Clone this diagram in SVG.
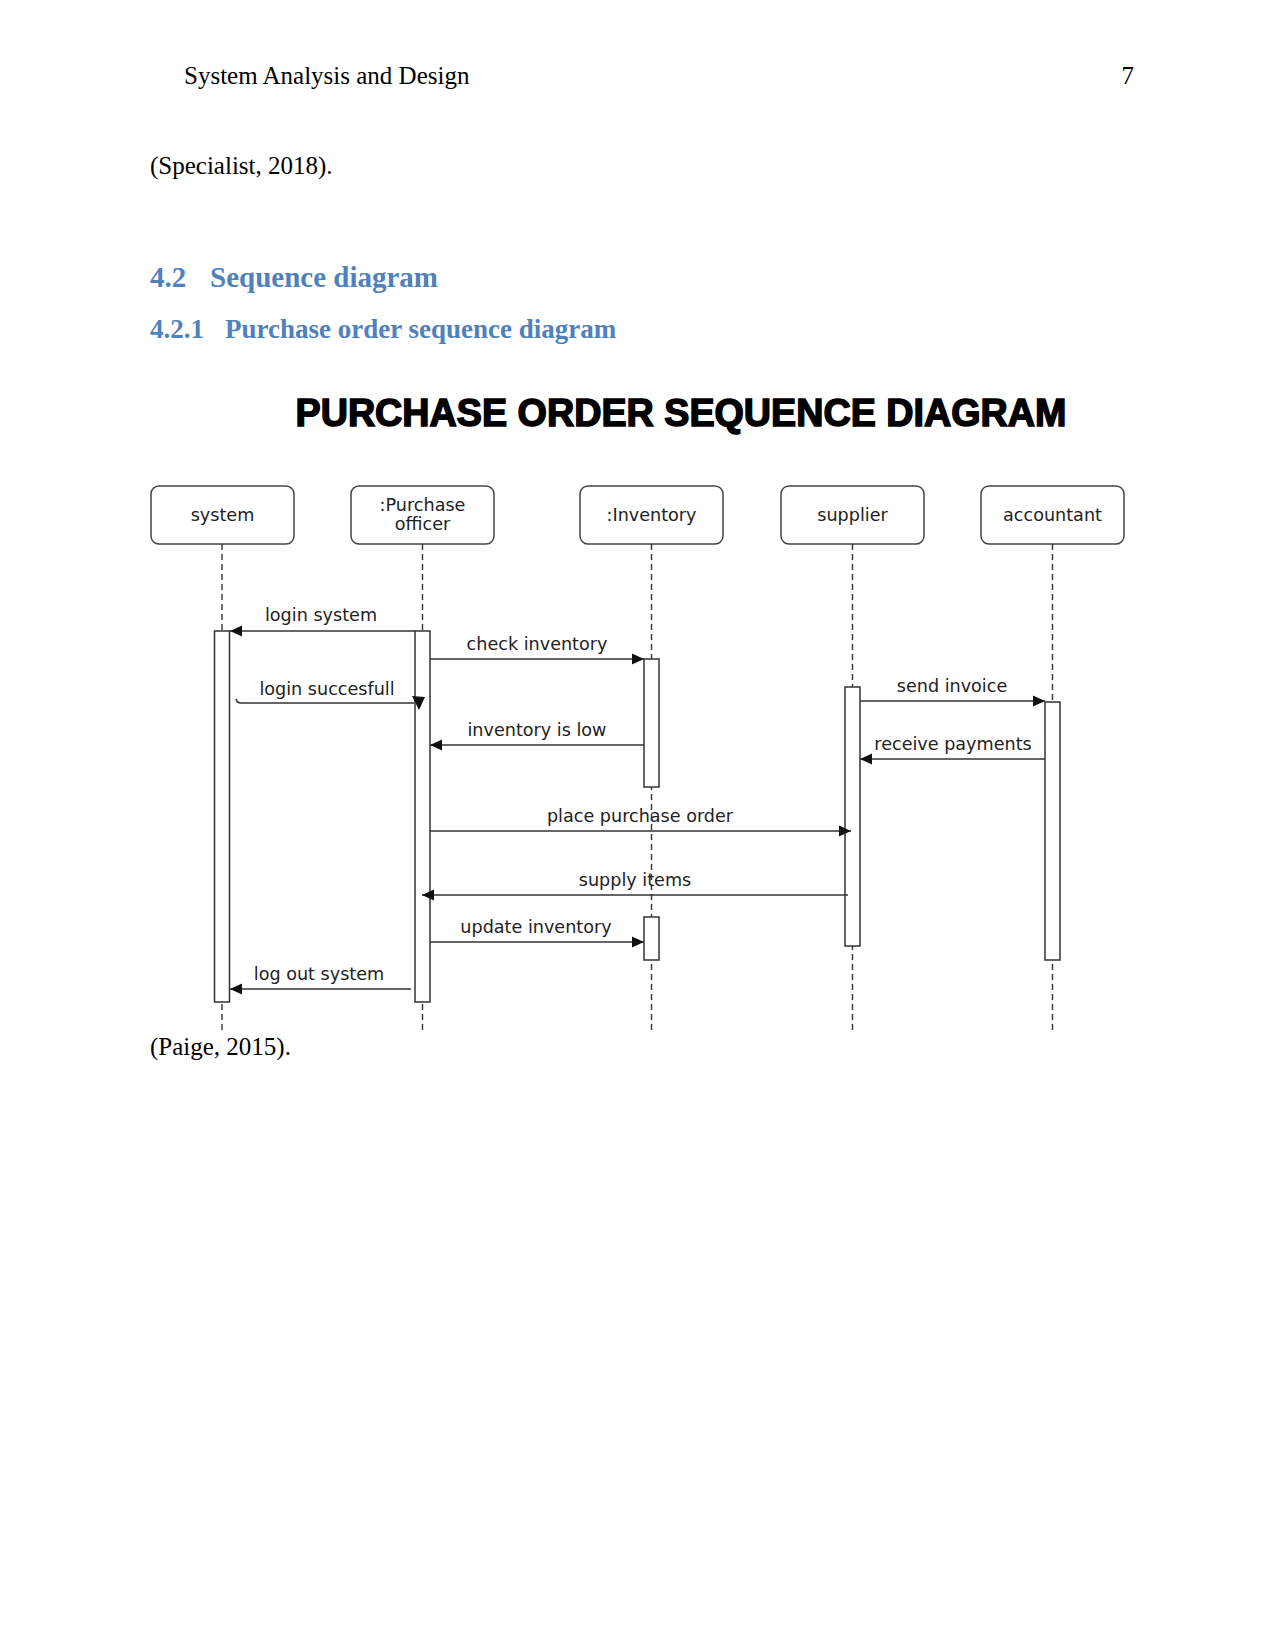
<svg xmlns="http://www.w3.org/2000/svg" width="1275" height="1651" viewBox="0 0 1275 1651">
<style>
.body{font-family:"Liberation Serif","Times New Roman",serif;font-size:25px;fill:#000}
.h{font-family:"Liberation Serif","Times New Roman",serif;font-weight:bold;fill:#4F81BD}
.title{font-family:"Liberation Sans",Arial,sans-serif;font-weight:bold;font-size:38px;fill:#000;stroke:#000;stroke-width:1.5}
.lbl{font-family:"DejaVu Sans",Verdana,sans-serif;font-size:17.6px;fill:#222}
.box{fill:#fff;stroke:#444;stroke-width:1.5}
.life{stroke:#333;stroke-width:1.4;stroke-dasharray:6 4;fill:none}
.act{fill:#fff;stroke:#333;stroke-width:1.5}
.msg{stroke:#333;stroke-width:1.5;fill:none}
</style>
<defs>
<marker id="ah" markerUnits="userSpaceOnUse" markerWidth="13" markerHeight="12" refX="12" refY="6" orient="auto">
<path d="M0,0.5 L12,6 L0,11.5 z" fill="#111"/>
</marker>
</defs>
<rect width="1275" height="1651" fill="#fff"/>
<text class="body" x="184" y="84">System Analysis and Design</text>
<text class="body" x="1134" y="84" text-anchor="end">7</text>
<text class="body" x="150" y="174">(Specialist, 2018).</text>
<text class="h" x="150" y="287" font-size="29px">4.2</text>
<text class="h" x="210" y="287" font-size="29px">Sequence diagram</text>
<text class="h" x="150" y="338" font-size="27px">4.2.1</text>
<text class="h" x="225" y="338" font-size="27px">Purchase order sequence diagram</text>
<g transform="translate(0,1)">
<text class="title" x="681" y="425" text-anchor="middle" textLength="771" lengthAdjust="spacingAndGlyphs">PURCHASE ORDER SEQUENCE DIAGRAM</text>

<g id="system">
<rect class="box" x="151" y="485" width="143" height="58" rx="8"/>
<text class="lbl" x="222.5" y="520" text-anchor="middle">system</text>
<line class="life" x1="222" y1="543" x2="222" y2="1030"/>
<rect class="act" x="214.5" y="630" width="15" height="371"/>
</g>
<g id="purchase-officer">
<rect class="box" x="351" y="485" width="143" height="58" rx="8"/>
<text class="lbl" x="422.5" y="510" text-anchor="middle">:Purchase</text>
<text class="lbl" x="422.5" y="529" text-anchor="middle">officer</text>
<line class="life" x1="422.5" y1="543" x2="422.5" y2="1030"/>
<rect class="act" x="415" y="630" width="15" height="371"/>
</g>
<g id="inventory">
<rect class="box" x="580" y="485" width="143" height="58" rx="8"/>
<text class="lbl" x="651.5" y="520" text-anchor="middle">:Inventory</text>
<line class="life" x1="651.5" y1="543" x2="651.5" y2="1030"/>
<rect class="act" x="644" y="658" width="15" height="128"/>
<rect class="act" x="644" y="916" width="15" height="43"/>
</g>
<g id="supplier">
<rect class="box" x="781" y="485" width="143" height="58" rx="8"/>
<text class="lbl" x="852.5" y="520" text-anchor="middle">supplier</text>
<line class="life" x1="852.5" y1="543" x2="852.5" y2="1030"/>
<rect class="act" x="845" y="686" width="15" height="259"/>
</g>
<g id="accountant">
<rect class="box" x="981" y="485" width="143" height="58" rx="8"/>
<text class="lbl" x="1052.5" y="520" text-anchor="middle">accountant</text>
<line class="life" x1="1052.5" y1="543" x2="1052.5" y2="1030"/>
<rect class="act" x="1045" y="701" width="15" height="258"/>
</g>

<g id="connectors">
<line class="msg" x1="415" y1="630" x2="230" y2="630" marker-end="url(#ah)"/>
<text class="lbl" x="321" y="620" text-anchor="middle">login system</text>
<line class="msg" x1="430" y1="658" x2="644" y2="658" marker-end="url(#ah)"/>
<text class="lbl" x="537" y="649" text-anchor="middle">check inventory</text>
<path class="msg" d="M236,698 Q237,702 241,702 L414,702"/>
<path d="M412,695 L425,696 L419,709 z" fill="#111"/>
<text class="lbl" x="327" y="694" text-anchor="middle">login succesfull</text>
<line class="msg" x1="644" y1="744" x2="430" y2="744" marker-end="url(#ah)"/>
<text class="lbl" x="537" y="735" text-anchor="middle">inventory is low</text>
<line class="msg" x1="860" y1="700" x2="1045" y2="700" marker-end="url(#ah)"/>
<text class="lbl" x="952" y="691" text-anchor="middle">send invoice</text>
<line class="msg" x1="1045" y1="758" x2="860" y2="758" marker-end="url(#ah)"/>
<text class="lbl" x="953" y="749" text-anchor="middle">receive payments</text>
<line class="msg" x1="430" y1="830" x2="851" y2="830" marker-end="url(#ah)"/>
<text class="lbl" x="640" y="821" text-anchor="middle">place purchase order</text>
<line class="msg" x1="848" y1="894" x2="422" y2="894" marker-end="url(#ah)"/>
<text class="lbl" x="635" y="885" text-anchor="middle">supply items</text>
<line class="msg" x1="430" y1="941" x2="644" y2="941" marker-end="url(#ah)"/>
<text class="lbl" x="536" y="932" text-anchor="middle">update inventory</text>
<line class="msg" x1="411" y1="988" x2="230" y2="988" marker-end="url(#ah)"/>
<text class="lbl" x="319" y="979" text-anchor="middle">log out system</text>
</g>
</g>
<text class="body" x="150" y="1055">(Paige, 2015).</text>
</svg>
